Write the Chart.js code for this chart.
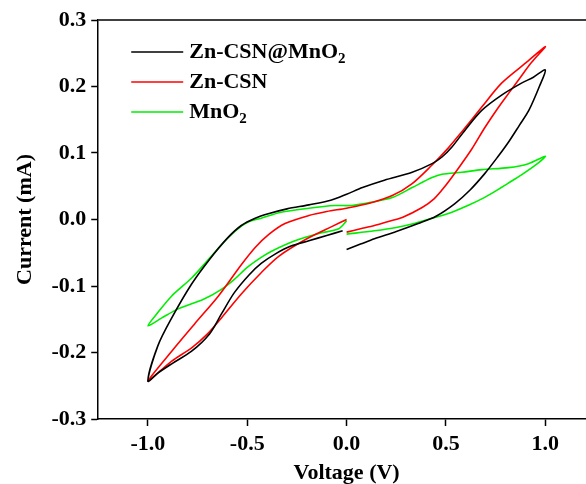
<!DOCTYPE html>
<html lang="en">
<head>
  <meta charset="UTF-8" />
  <title>CV curves</title>
  <script src="https://cdn.jsdelivr.net/npm/chart.js"></script>
  <style>
    html, body {
      margin: 0;
      padding: 0;
      background: #fff;
      overflow: hidden;
    }
    .chart-box {
      width: 600px;
      height: 484px;
    }
  </style>
</head>
<body>
  <div class="chart-box">
    <canvas id="cvChart" width="600" height="484"></canvas>
  </div>

  <script>
    // Zn-CSN@MnO2 : sweep 0 -> 1.0 -> -1.0 -> 0
    const voltsCsnMn = [0.0, 0.07, 0.14, 0.25, 0.36, 0.45, 0.545, 0.62, 0.695, 0.76, 0.816, 0.87, 0.917, 0.97, 1.0,
      0.94, 0.88, 0.78, 0.68, 0.595, 0.53, 0.48, 0.43, 0.33, 0.19, 0.08, 0.0, -0.08, -0.19, -0.3, -0.39, -0.46, -0.53, -0.6, -0.69, -0.78, -0.88, -0.95, -1.0,
      -0.95, -0.88, -0.78, -0.69, -0.63, -0.565, -0.49, -0.43, -0.36, -0.28, -0.19, -0.1, -0.02];
    const currCsnMn = [-0.045, -0.037, -0.029, -0.018, -0.006, 0.005, 0.024, 0.044, 0.069, 0.094, 0.117, 0.142, 0.164, 0.2, 0.225,
      0.214, 0.205, 0.187, 0.164, 0.134, 0.109, 0.094, 0.084, 0.071, 0.059, 0.048, 0.038, 0.029, 0.022, 0.016, 0.009, 0.002, -0.009, -0.028, -0.06, -0.097, -0.148, -0.19, -0.243,
      -0.231, -0.217, -0.198, -0.172, -0.142, -0.11, -0.083, -0.066, -0.052, -0.04, -0.032, -0.024, -0.017];

    // Zn-CSN
    const voltsCsn = [0.0, 0.07, 0.14, 0.21, 0.28, 0.38, 0.44, 0.49, 0.56, 0.63, 0.695, 0.76, 0.816, 0.875, 0.93, 1.0,
      0.9, 0.78, 0.68, 0.58, 0.51, 0.43, 0.33, 0.23, 0.11, 0.0, -0.1, -0.19, -0.31, -0.39, -0.46, -0.53, -0.645, -0.765, -0.88, -1.0,
      -0.88, -0.78, -0.7, -0.63, -0.53, -0.43, -0.34, -0.2, -0.07, 0.0];
    const currCsn = [-0.019, -0.014, -0.009, -0.003, 0.003, 0.018, 0.031, 0.048, 0.076, 0.106, 0.138, 0.167, 0.19, 0.214, 0.236, 0.26,
      0.235, 0.205, 0.169, 0.132, 0.107, 0.082, 0.054, 0.036, 0.024, 0.017, 0.012, 0.006, -0.006, -0.022, -0.042, -0.068, -0.115, -0.157, -0.198, -0.243,
      -0.213, -0.193, -0.172, -0.148, -0.112, -0.08, -0.055, -0.029, -0.01, 0.0];

    // MnO2
    const voltsMn = [0.0, 0.14, 0.25, 0.34, 0.42, 0.48, 0.53, 0.61, 0.68, 0.745, 0.81, 0.88, 0.965, 1.0,
      0.915, 0.815, 0.68, 0.58, 0.48, 0.43, 0.33, 0.23, 0.126, 0.025, -0.06, -0.19, -0.33, -0.43, -0.49, -0.53, -0.595, -0.68, -0.78, -0.88, -0.95, -1.0,
      -0.93, -0.845, -0.72, -0.63, -0.565, -0.5, -0.43, -0.38, -0.26, -0.14, -0.04, 0.0];
    const currMn = [-0.022, -0.017, -0.012, -0.006, 0.001, 0.006, 0.011, 0.021, 0.031, 0.042, 0.054, 0.067, 0.085, 0.095,
      0.084, 0.078, 0.075, 0.071, 0.068, 0.063, 0.048, 0.033, 0.026, 0.021, 0.021, 0.017, 0.011, 0.002, -0.003, -0.01, -0.027, -0.055, -0.088, -0.115, -0.14, -0.16,
      -0.148, -0.134, -0.12, -0.105, -0.09, -0.072, -0.057, -0.048, -0.032, -0.021, -0.014, -0.002];

    const seriesLabels = ['Zn-CSN@MnO₂', 'Zn-CSN', 'MnO₂'];
    const seriesColors = ['#000000', '#ff0000', '#00ee00'];
    const xTicks = [-1.0, -0.5, 0.0, 0.5, 1.0];
    const yTicks = [-0.3, -0.2, -0.1, 0.0, 0.1, 0.2, 0.3];

    const FONT = "'Liberation Serif', 'Times New Roman', serif";

    function toPoints(xs, ys) {
      return xs.map((x, i) => ({ x: x, y: ys[i] }));
    }

    function fmt(v) {
      return Math.abs(v) < 1e-9 ? '0.0' : v.toFixed(1);
    }

    // legend inside the plot, with a real subscript for the "2"
    const innerLegend = {
      id: 'innerLegend',
      afterDraw(chart) {
        const ctx = chart.ctx;
        const area = chart.chartArea;
        ctx.save();
        // top frame line
        ctx.strokeStyle = '#000';
        ctx.lineWidth = 1.5;
        ctx.beginPath();
        ctx.moveTo(area.left, area.top);
        ctx.lineTo(area.right, area.top);
        ctx.stroke();

        chart.data.datasets.forEach((ds, i) => {
          const y = area.top + 32 + i * 30;
          ctx.strokeStyle = ds.borderColor;
          ctx.lineWidth = 1.5;
          ctx.beginPath();
          ctx.moveTo(area.left + 33, y);
          ctx.lineTo(area.left + 85, y);
          ctx.stroke();

          let x = area.left + 91;
          ctx.fillStyle = '#000';
          ctx.textBaseline = 'middle';
          ctx.textAlign = 'left';
          const parts = ds.label.split('₂');
          parts.forEach((p, k) => {
            ctx.font = 'bold 22px ' + FONT;
            ctx.fillText(p, x, y);
            x += ctx.measureText(p).width;
            if (k < parts.length - 1) {
              ctx.font = 'bold 15px ' + FONT;
              ctx.fillText('2', x, y + 7);
              x += ctx.measureText('2').width;
            }
          });
        });
        ctx.restore();
      }
    };

    const datasets = [
      toPoints(voltsCsnMn, currCsnMn),
      toPoints(voltsCsn, currCsn),
      toPoints(voltsMn, currMn)
    ].map((pts, i) => ({
      label: seriesLabels[i],
      data: pts,
      borderColor: seriesColors[i],
      backgroundColor: seriesColors[i],
      borderWidth: 1.6,
      pointRadius: 0,
      showLine: true,
      fill: false,
      tension: 0.3
    }));

    const tickFont = { family: FONT, size: 22, weight: 'bold', lineHeight: 1 };
    const titleFont = { family: FONT, size: 22, weight: 'bold', lineHeight: 1 };

    new Chart(document.getElementById('cvChart'), {
      type: 'scatter',
      data: { datasets: datasets },
      options: {
        responsive: false,
        animation: false,
        devicePixelRatio: 1,
        layout: { padding: { left: 12, right: 5, top: 20, bottom: 0 } },
        plugins: { legend: { display: false }, tooltip: { enabled: false } },
        scales: {
          x: {
            type: 'linear',
            min: -1.25,
            max: 1.25,
            grid: { drawOnChartArea: false, tickLength: 7, tickColor: '#000', tickWidth: 1.5 },
            border: { display: true, color: '#000', width: 1.5 },
            ticks: { color: '#000', font: tickFont, padding: 7, callback: v => fmt(v) },
            afterBuildTicks: axis => { axis.ticks = xTicks.map(v => ({ value: v })); },
            title: {
              display: true, text: 'Voltage (V)', color: '#000',
              font: titleFont, padding: { top: 0, bottom: 0 }
            }
          },
          y: {
            type: 'linear',
            min: -0.3,
            max: 0.3,
            grid: { drawOnChartArea: false, tickLength: 7, tickColor: '#000', tickWidth: 1.5 },
            border: { display: true, color: '#000', width: 1.5 },
            ticks: { color: '#000', font: tickFont, padding: 5, callback: v => fmt(v) },
            afterBuildTicks: axis => { axis.ticks = yTicks.map(v => ({ value: v })); },
            title: {
              display: true, text: 'Current (mA)', color: '#000',
              font: { family: FONT, size: 22, weight: 'bold' },
              padding: { top: 0, bottom: 8 }
            }
          }
        }
      },
      plugins: [innerLegend]
    });
  </script>
</body>
</html>
